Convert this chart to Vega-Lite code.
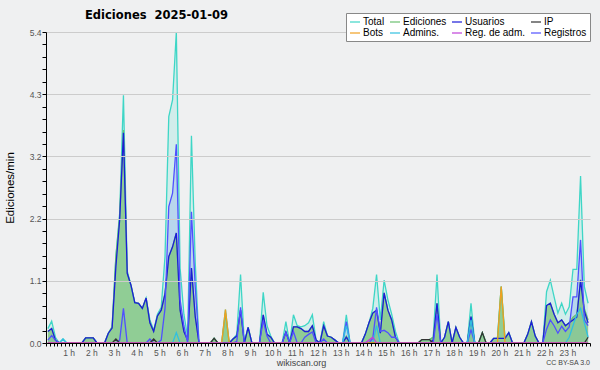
{
  "$schema": "https://vega.github.io/schema/vega-lite/v6.json",
  "width": 544,
  "height": 311,
  "autosize": {"type": "none"},
  "padding": {"left": 46, "top": 32, "right": 10, "bottom": 27},
  "background": "#eff0f1",
  "config": {"view": {"stroke": null, "fill": "#eff0f1"}, "font": "Liberation Sans"},
  "title": {"text": "Ediciones\u00a0 2025-01-09", "anchor": "start", "frame": "group", "dx": 39, "offset": 10, "dy": 19, "fontSize": 11.5, "fontWeight": "bold", "font": "DejaVu Sans", "color": "#000"},
  "layer": [
    {
      "data": {"values": [
        {"m":5,"T":0.25,"E":0.2,"U":0.2,"R":0.05},
        {"m":15,"T":0.38,"E":0.25,"U":0.25,"R":0.13},
        {"m":25,"T":0.1,"E":0.05,"U":0.05,"R":0.05},
        {"m":35,"T":0},
        {"m":45,"T":0.07,"A":0.07},
        {"m":55,"T":0},
        {"m":95,"T":0},
        {"m":105,"T":0.09,"E":0.09,"U":0.09},
        {"m":115,"T":0.09,"E":0.09,"U":0.09},
        {"m":125,"T":0.09,"E":0.09,"U":0.09},
        {"m":135,"T":0},
        {"m":155,"T":0},
        {"m":165,"T":0.17,"E":0.17,"U":0.17},
        {"m":175,"T":0.28,"E":0.28,"U":0.26},
        {"m":185,"T":1.5,"E":1.5,"U":1.33,"I":0.07},
        {"m":195,"T":2.25,"E":2.2,"U":2.14,"R":0.05},
        {"m":205,"T":4.3,"E":3.7,"U":3.65,"R":0.6},
        {"m":215,"T":1.25,"E":1.22,"U":1.21},
        {"m":225,"T":1.0,"E":1.0,"U":1.0},
        {"m":235,"T":0.7,"E":0.7,"U":0.7},
        {"m":245,"T":0.69,"E":0.69,"U":0.69},
        {"m":255,"T":0.6,"E":0.6,"U":0.6},
        {"m":265,"T":0.78,"E":0.78,"U":0.78},
        {"m":275,"T":0.4,"E":0.35,"U":0.35,"R":0.07},
        {"m":285,"T":0.22,"E":0.2,"U":0.2,"I":0.07},
        {"m":295,"T":0.5,"E":0.47,"U":0.47},
        {"m":305,"T":0.62,"E":0.57,"U":0.57,"R":0.05},
        {"m":315,"T":1.5,"E":0.87,"U":0.85,"R":0.6},
        {"m":325,"T":3.93,"E":1.5,"U":1.5,"R":2.37},
        {"m":335,"T":4.22,"E":1.67,"U":1.67,"R":2.6},
        {"m":345,"T":5.4,"E":1.91,"U":1.91,"R":3.45,"A":0.18},
        {"m":355,"T":1.3,"E":0.57,"U":0.57,"R":0.75},
        {"m":365,"T":0.5,"E":0.2,"U":0.2,"R":0.3},
        {"m":375,"T":0.1,"E":0.05,"U":0.05},
        {"m":385,"T":3.6,"E":1.3,"U":1.3,"R":2.28},
        {"m":395,"T":1.4,"E":0.46,"U":0.46,"R":0.98},
        {"m":405,"T":0},
        {"m":435,"T":0},
        {"m":445,"T":0.08,"E":0.08,"I":0.08},
        {"m":455,"T":0},
        {"m":465,"T":0},
        {"m":475,"T":0.58,"E":0.52,"B":0.58},
        {"m":485,"T":0},
        {"m":495,"T":0.07,"E":0.07,"U":0.07},
        {"m":505,"T":0.15,"E":0.12,"U":0.12,"R":0.03},
        {"m":515,"T":1.19,"E":0.57,"U":0.57,"R":0.62},
        {"m":525,"T":0},
        {"m":535,"T":0.27,"E":0.27,"U":0.27},
        {"m":545,"T":0},
        {"m":565,"T":0},
        {"m":575,"T":0.88,"E":0.49,"U":0.49,"R":0.39},
        {"m":585,"T":0.3,"E":0.15,"U":0.15,"R":0.12},
        {"m":595,"T":0.12,"E":0.1,"U":0.1},
        {"m":605,"T":0},
        {"m":625,"T":0},
        {"m":635,"T":0.37,"E":0.19,"U":0.19,"R":0.18},
        {"m":645,"T":0},
        {"m":655,"T":0.49,"E":0.28,"U":0.28,"R":0.2},
        {"m":665,"T":0.3,"E":0.28,"U":0.28},
        {"m":675,"T":0.28,"E":0.25,"U":0.25},
        {"m":685,"T":0.3,"E":0.2,"U":0.2,"R":0.1},
        {"m":695,"T":0.35,"E":0.2,"U":0.2,"R":0.15},
        {"m":705,"T":0.49,"E":0.3,"U":0.3,"R":0.19},
        {"m":715,"T":0.05,"E":0.05,"U":0.05},
        {"m":725,"T":0},
        {"m":735,"T":0.37,"E":0.3,"U":0.3,"R":0.07},
        {"m":745,"T":0.12,"E":0.12,"U":0.12},
        {"m":755,"T":0.1,"E":0.1,"U":0.1},
        {"m":765,"T":0.05,"E":0.05,"U":0.05},
        {"m":775,"T":0},
        {"m":785,"T":0},
        {"m":795,"T":0.49,"E":0.12,"U":0.1,"R":0.37,"A":0.3},
        {"m":805,"T":0},
        {"m":835,"T":0},
        {"m":845,"T":0.15,"E":0.15,"U":0.15},
        {"m":855,"T":0.35,"E":0.35,"U":0.35,"G":0.05},
        {"m":865,"T":0.6,"E":0.52,"U":0.52,"R":0.08,"G":0.1},
        {"m":875,"T":1.19,"E":0.57,"U":0.57,"R":0.62,"A":0.3},
        {"m":885,"T":0.4,"E":0.17,"U":0.17,"R":0.2},
        {"m":895,"T":1.09,"E":0.87,"U":0.87,"R":0.22},
        {"m":905,"T":0.75,"E":0.57,"U":0.57,"R":0.18},
        {"m":915,"T":0.5,"E":0.4,"U":0.4,"R":0.1},
        {"m":925,"T":0.2,"E":0.1,"U":0.1,"R":0.1},
        {"m":935,"T":0},
        {"m":985,"T":0},
        {"m":995,"T":0.06,"E":0.06,"I":0.06},
        {"m":1005,"T":0.06,"E":0.06,"I":0.06},
        {"m":1015,"T":0.06,"E":0.06,"I":0.06},
        {"m":1025,"T":0.1,"E":0.1,"U":0.05},
        {"m":1035,"T":1.19,"E":0.69,"U":0.69,"R":0.5},
        {"m":1045,"T":0},
        {"m":1055,"T":0.1,"E":0.1,"U":0.1},
        {"m":1065,"T":0.37,"E":0.37,"U":0.37},
        {"m":1075,"T":0},
        {"m":1085,"T":0.27,"E":0.27,"U":0.27},
        {"m":1095,"T":0.1,"E":0.1,"U":0.1},
        {"m":1105,"T":0},
        {"m":1115,"T":0},
        {"m":1125,"T":0.69,"E":0.46,"U":0.46,"R":0.23,"A":0.4},
        {"m":1135,"T":0},
        {"m":1145,"T":0},
        {"m":1155,"T":0.18,"E":0.18,"I":0.18},
        {"m":1165,"T":0},
        {"m":1175,"T":0},
        {"m":1185,"T":0.08,"E":0.08,"U":0.08},
        {"m":1195,"T":0.08,"E":0.08,"U":0.08},
        {"m":1205,"T":0.98,"E":0.98,"U":0.08,"B":0.98},
        {"m":1215,"T":0.08,"E":0.08,"U":0.08},
        {"m":1225,"T":0.18,"E":0.18,"U":0.18},
        {"m":1235,"T":0},
        {"m":1265,"T":0},
        {"m":1275,"T":0.15,"E":0.15,"U":0.15},
        {"m":1285,"T":0.37,"E":0.37,"U":0.37},
        {"m":1295,"T":0.12,"E":0.12,"U":0.12},
        {"m":1305,"T":0},
        {"m":1315,"T":0},
        {"m":1325,"T":0.89,"E":0.65,"U":0.65,"R":0.24},
        {"m":1335,"T":1.09,"E":0.69,"U":0.69,"R":0.4},
        {"m":1345,"T":0.8,"E":0.5,"U":0.5,"R":0.3},
        {"m":1355,"T":0.52,"E":0.35,"U":0.35,"R":0.17},
        {"m":1365,"T":0.69,"E":0.4,"U":0.4,"R":0.29},
        {"m":1375,"T":0.5,"E":0.3,"U":0.3,"R":0.2},
        {"m":1385,"T":0.63,"E":0.35,"U":0.35,"R":0.28,"A":0.1},
        {"m":1395,"T":1.28,"E":0.45,"U":0.4,"R":0.8,"A":0.3},
        {"m":1405,"T":1.28,"E":0.5,"U":0.45,"R":0.8,"A":0.5},
        {"m":1415,"T":2.9,"E":1.1,"U":1.09,"R":1.79,"A":0.6},
        {"m":1425,"T":0.98,"E":0.6,"U":0.55,"R":0.4,"A":0.35},
        {"m":1435,"T":0.69,"E":0.4,"U":0.35,"R":0.3,"A":0.1,"I":0.1}
      ]},
      "transform": [
        {"fold": ["T","E","U","I","B","A","G","R"], "as": ["k","v"]},
        {"filter": "isValid(datum.v)"},
        {"impute": "v", "key": "m", "groupby": ["k"], "value": 0}
      ],
      "encoding": {
        "x": {
          "field": "m", "type": "quantitative",
          "scale": {"domain": [0, 1440], "nice": false, "zero": false},
          "axis": {
            "values": [0,10,20,30,40,50,60,70,80,90,100,110,120,130,140,150,160,170,180,190,200,210,220,230,240,250,260,270,280,290,300,310,320,330,340,350,360,370,380,390,400,410,420,430,440,450,460,470,480,490,500,510,520,530,540,550,560,570,580,590,600,610,620,630,640,650,660,670,680,690,700,710,720,730,740,750,760,770,780,790,800,810,820,830,840,850,860,870,880,890,900,910,920,930,940,950,960,970,980,990,1000,1010,1020,1030,1040,1050,1060,1070,1080,1090,1100,1110,1120,1130,1140,1150,1160,1170,1180,1190,1200,1210,1220,1230,1240,1250,1260,1270,1280,1290,1300,1310,1320,1330,1340,1350,1360,1370,1380,1390,1400,1410,1420,1430,1440],
            "tickCount": 1000,
            "labelExpr": "(datum.value % 60 == 0 && datum.value > 0 && datum.value < 1440) ? (datum.value / 60) + ' h' : ''",
            "labelOverlap": false, "labelFlush": false,
            "labelFontSize": 8.5, "labelColor": "#555", "labelPadding": 2,
            "tickSize": 3, "tickColor": "#000", "domainColor": "#000",
            "grid": false, "zindex": 1,
            "title": "wikiscan.org", "titleFontSize": 9, "titleFontWeight": "normal", "titleColor": "#444",
            "titleX": 255, "titleY": 22, "titleAlign": "center", "titleBaseline": "alphabetic"
          }
        },
        "y": {
          "field": "v", "type": "quantitative", "stack": null,
          "scale": {"domain": [0, 5.4], "nice": false},
          "axis": {
            "values": [0,0.216,0.432,0.648,0.864,1.08,1.296,1.512,1.728,1.944,2.16,2.376,2.592,2.808,3.024,3.24,3.456,3.672,3.888,4.104,4.32,4.536,4.752,4.968,5.184,5.4],
            "tickCount": 1000,
            "labelExpr": "abs(datum.value/1.08 - round(datum.value/1.08)) < 0.001 ? format(datum.value, '.1f') : ''",
            "labelOverlap": false, "labelFlush": false,
            "labelFontSize": 8.5, "labelColor": "#555", "labelPadding": 1,
            "tickSize": 4, "tickColor": "#000", "domainColor": "#000",
            "grid": true, "gridColor": "#cccccc",
            "gridOpacity": {"condition": {"test": "abs(datum.value/1.08 - round(datum.value/1.08)) < 0.001", "value": 1}, "value": 0},
            "zindex": 1,
            "title": "Ediciones/min", "titleFontSize": 11.5, "titleFontWeight": "normal", "titleColor": "#000", "titlePadding": 14
          }
        }
      },
      "layer": [
        {"transform": [{"filter": "datum.k == 'T'"}], "mark": {"type": "area", "color": "#40e0d0", "opacity": 0.17}},
        {"transform": [{"filter": "datum.k == 'R'"}], "mark": {"type": "area", "color": "#9fc0f0", "opacity": 0.5}},
        {"transform": [{"filter": "datum.k == 'E'"}], "mark": {"type": "area", "color": "#7fc47f", "opacity": 0.8}},
        {
          "mark": {"type": "line", "strokeWidth": 1.3},
          "encoding": {
            "color": {
              "field": "k", "type": "nominal",
              "scale": {"domain": ["T","E","U","I","B","A","G","R"], "range": ["#3ed6c6","#6cc070","#1c1cd8","#333333","#f0a020","#30c0e0","#c040d8","#5050ff"]},
              "legend": {
                "orient": "none", "legendX": 300, "legendY": -19, "direction": "horizontal", "columns": 4, "zindex": 3,
                "title": null, "symbolType": "stroke", "symbolSize": 100, "symbolStrokeWidth": 1.2,
                "labelFontSize": 10, "labelFont": "Liberation Sans", "labelColor": "#000", "labelOffset": 2,
                "fillColor": "#ffffff", "strokeColor": "#888888", "padding": 3, "rowPadding": 0, "columnPadding": 2,
                "gridAlign": "each",
                "labelExpr": "datum.label == 'T' ? 'Total' : datum.label == 'E' ? 'Ediciones' : datum.label == 'U' ? 'Usuarios' : datum.label == 'I' ? 'IP' : datum.label == 'B' ? 'Bots' : datum.label == 'A' ? 'Admins.' : datum.label == 'G' ? 'Reg. de adm.' : 'Registros'"
              }
            }
          }
        }
      ]
    },
    {
      "data": {"values": [{"label": "CC BY-SA 3.0"}]},
      "mark": {"type": "text", "align": "right", "baseline": "alphabetic", "dy": 22, "fontSize": 7, "color": "#444"},
      "encoding": {
        "x": {"datum": 1440},
        "y": {"datum": 0},
        "text": {"field": "label"}
      }
    }
  ]
}
